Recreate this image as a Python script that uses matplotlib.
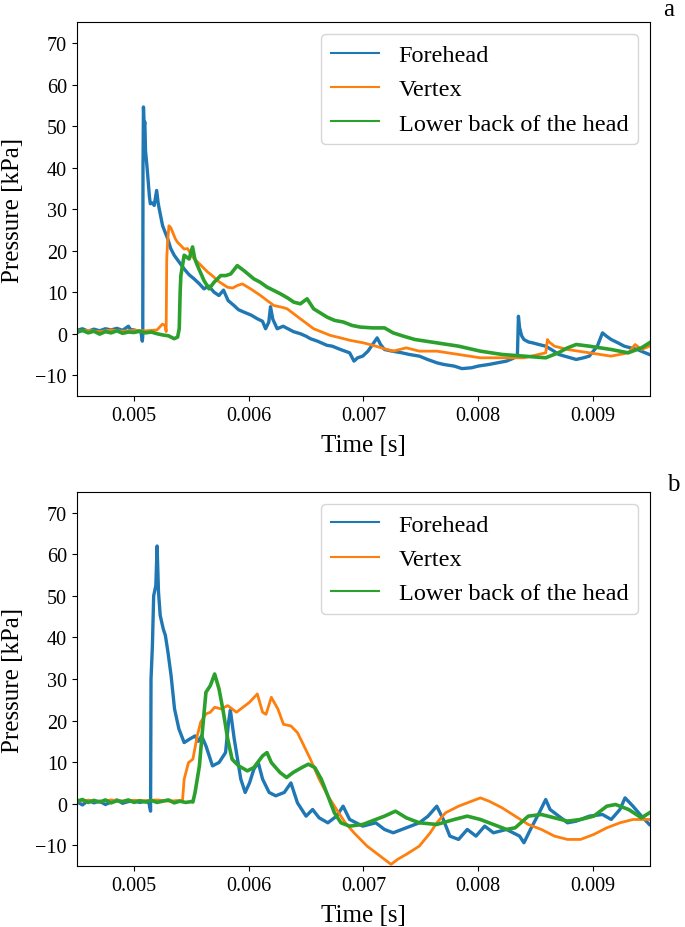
import numpy as np
import matplotlib
matplotlib.use("Agg")
from matplotlib import pyplot as plt

plt.rcParams['font.family'] = ['Liberation Serif', 'DejaVu Serif']

# ---- panel a (times in ms, pressure in kPa) ----
ta_fore = [4.50, 4.55, 4.60, 4.65, 4.70, 4.75, 4.80, 4.85, 4.90, 4.95, 4.97, 5.00, 5.04, 5.06,
           5.072, 5.076, 5.078, 5.082, 5.088, 5.094, 5.100, 5.112, 5.124, 5.134, 5.142, 5.160,
           5.176, 5.197, 5.210, 5.220, 5.249, 5.270, 5.293, 5.320, 5.350, 5.400, 5.437, 5.480,
           5.524, 5.570, 5.610, 5.650, 5.698, 5.740, 5.780, 5.820, 5.871, 5.910, 5.958, 6.020,
           6.075, 6.120, 6.147, 6.175, 6.190, 6.210, 6.248, 6.300, 6.390, 6.450, 6.500, 6.538,
           6.600, 6.683, 6.728, 6.800, 6.880, 6.918, 6.950, 6.994, 7.040, 7.070, 7.120, 7.150,
           7.184, 7.250, 7.336, 7.400, 7.488, 7.560, 7.640, 7.700, 7.792, 7.860, 7.944, 8.000,
           8.096, 8.170, 8.248, 8.300, 8.343, 8.352, 8.362, 8.380, 8.400, 8.440, 8.476, 8.530,
           8.590, 8.650, 8.704, 8.780, 8.856, 8.920, 8.970, 9.040, 9.085, 9.120, 9.161, 9.220,
           9.275, 9.330, 9.389, 9.440, 9.494]
pa_fore = [0.8, 1.2, 0.6, 1.1, 0.7, 1.2, 0.9, 1.3, 0.8, 1.8, 1.0, 0.9, 0.6, 0.5,
           -1.8, -0.5, 40.0, 54.6, 50.0, 51.0, 44.0, 40.5, 36.5, 33.0, 31.3, 31.5,
           30.9, 34.5, 31.5, 30.0, 26.0, 24.5, 22.9, 20.5, 18.9, 17.0, 15.6, 14.2,
           13.2, 12.0, 10.8, 11.5, 10.0, 9.2, 10.5, 8.0, 6.8, 5.8, 5.2, 4.5,
           3.6, 3.0, 1.2, 2.8, 6.5, 3.5, 1.2, 1.8, 0.5, 0.0, -0.6, -1.2,
           -1.8, -2.8, -3.0, -3.8, -4.6, -6.6, -5.8, -5.4, -4.2, -3.0, -1.0, -2.6,
           -3.8, -4.2, -4.6, -5.0, -5.4, -6.2, -7.0, -7.4, -7.8, -8.4, -8.2, -7.8,
           -7.4, -7.0, -6.6, -6.0, -5.4, 4.2, 1.5, -0.5, -1.4, -2.0, -2.2, -2.6,
           -3.0, -4.0, -5.0, -5.6, -6.2, -5.8, -5.4, -3.0, 0.2, -0.6, -1.4, -2.2,
           -3.0, -3.4, -3.8, -4.4, -5.0]

ta_vert = [4.50, 4.60, 4.70, 4.80, 4.90, 5.00, 5.10, 5.20, 5.247, 5.270, 5.280, 5.285, 5.292,
           5.304, 5.321, 5.361, 5.380, 5.437, 5.467, 5.510, 5.553, 5.600, 5.640, 5.690, 5.727,
           5.770, 5.814, 5.860, 5.900, 5.944, 6.017, 6.103, 6.160, 6.219, 6.300, 6.335, 6.450,
           6.566, 6.711, 6.800, 6.885, 7.000, 7.108, 7.180, 7.260, 7.374, 7.488, 7.640, 7.830,
           8.020, 8.210, 8.400, 8.590, 8.605, 8.620, 8.666, 8.780, 8.970, 9.160, 9.310, 9.370,
           9.425, 9.494]
pa_vert = [0.6, 0.8, 0.5, 0.9, 0.6, 0.8, 0.7, 0.9, 2.3, 2.0, 0.5, 18.0, 22.0,
           26.0, 25.5, 22.8, 22.0, 20.4, 20.5, 18.5, 17.3, 16.0, 14.9, 13.8, 12.8,
           12.0, 11.2, 11.0, 11.6, 12.0, 10.8, 9.2, 8.0, 6.8, 6.3, 6.0, 3.6,
           1.2, -0.4, -1.0, -1.6, -2.2, -3.0, -3.6, -4.2, -3.4, -4.2, -4.2, -5.0,
           -5.8, -5.8, -5.8, -4.6, -1.4, -2.0, -3.0, -3.8, -4.6, -5.4, -4.6, -2.6,
           -3.8, -3.0]

ta_back = [4.50, 4.55, 4.60, 4.65, 4.70, 4.75, 4.80, 4.85, 4.90, 4.95, 5.00, 5.05, 5.10,
           5.15, 5.20, 5.25, 5.30, 5.35, 5.38, 5.394, 5.402, 5.408, 5.437, 5.480, 5.510,
           5.530, 5.553, 5.610, 5.654, 5.698, 5.756, 5.800, 5.843, 5.900, 5.958, 6.045, 6.100,
           6.161, 6.220, 6.277, 6.340, 6.393, 6.450, 6.509, 6.566, 6.683, 6.750, 6.827, 6.900,
           6.972, 7.080, 7.184, 7.260, 7.350, 7.450, 7.640, 7.830, 8.020, 8.210, 8.400, 8.590,
           8.700, 8.780, 8.856, 8.970, 9.160, 9.310, 9.425, 9.494]
pa_back = [0.3, 0.8, 0.2, 0.6, -0.1, 0.5, 0.2, 0.7, 0.1, 0.4, 0.3, 0.6, 0.2,
           0.4, 0.0, -0.3, -0.5, -1.2, -0.8, 1.2, 10.0, 14.0, 18.9, 18.0, 20.9,
           18.0, 16.4, 12.8, 10.8, 12.4, 14.0, 14.0, 14.4, 16.4, 15.2, 13.2, 12.4,
           11.2, 10.4, 9.6, 8.6, 7.6, 7.2, 8.4, 6.0, 4.0, 3.2, 2.8, 2.0,
           1.6, 1.4, 1.4, 0.2, -0.6, -1.4, -2.2, -3.0, -4.2, -5.0, -5.4, -5.8,
           -4.6, -3.4, -2.6, -3.0, -3.8, -4.6, -3.4, -2.2]

# ---- panel b ----
tb_fore = [4.50, 4.55, 4.60, 4.65, 4.70, 4.75, 4.80, 4.85, 4.90, 4.95, 5.00, 5.05, 5.10,
           5.130, 5.144, 5.148, 5.160, 5.171, 5.190, 5.201, 5.213, 5.228, 5.255, 5.273, 5.296,
           5.323, 5.353, 5.391, 5.437, 5.482, 5.532, 5.560, 5.589, 5.627, 5.684, 5.741, 5.798,
           5.824, 5.840, 5.850, 5.874, 5.931, 5.969, 6.007, 6.045, 6.083, 6.121, 6.178, 6.235,
           6.310, 6.368, 6.425, 6.500, 6.557, 6.614, 6.690, 6.766, 6.823, 6.880, 6.994, 7.108,
           7.184, 7.260, 7.374, 7.488, 7.564, 7.640, 7.697, 7.754, 7.830, 7.906, 7.982, 8.058,
           8.134, 8.248, 8.362, 8.400, 8.457, 8.533, 8.590, 8.628, 8.704, 8.780, 8.856, 8.970,
           9.085, 9.161, 9.237, 9.282, 9.351, 9.425, 9.494]
pb_fore = [0.5, -0.3, 0.8, 0.2, 0.6, -0.2, 0.4, 0.9, 0.1, 0.5, 0.7, 0.3, 0.6,
           0.2, -1.8, 30.0, 38.0, 50.0, 52.5, 62.0, 51.0, 45.3, 42.0, 40.5, 36.4,
           30.8, 22.8, 18.0, 14.7, 15.5, 16.3, 15.0, 16.3, 13.9, 9.1, 9.9, 12.3,
           19.6, 22.5, 20.4, 15.5, 5.9, 2.7, 5.0, 8.3, 9.9, 5.9, 2.7, 1.9,
           2.7, 5.0, 0.2, -3.0, -1.4, -3.4, -4.6, -3.0, -0.6, -3.8, -5.4, -4.6,
           -6.2, -7.0, -5.8, -4.6, -3.0, -0.6, -3.8, -7.8, -8.6, -6.2, -7.8, -5.4,
           -7.0, -6.2, -7.8, -9.4, -6.2, -2.2, 1.0, -1.4, -3.0, -4.6, -4.2, -3.0,
           -2.6, -3.8, -1.4, 1.4, -0.6, -3.0, -5.0]

tb_vert = [4.50, 4.60, 4.70, 4.80, 4.90, 5.00, 5.10, 5.20, 5.30, 5.40, 5.422, 5.437, 5.475,
           5.513, 5.551, 5.581, 5.627, 5.665, 5.703, 5.760, 5.817, 5.893, 5.950, 6.007, 6.075,
           6.121, 6.151, 6.197, 6.254, 6.303, 6.368, 6.425, 6.482, 6.538, 6.614, 6.690, 6.766,
           6.842, 6.918, 7.032, 7.146, 7.241, 7.298, 7.374, 7.488, 7.583, 7.640, 7.716, 7.830,
           7.944, 8.020, 8.096, 8.210, 8.324, 8.438, 8.552, 8.666, 8.780, 8.894, 9.009, 9.123,
           9.237, 9.351, 9.494]
pb_vert = [0.6, 0.8, 0.5, 0.9, 0.6, 0.8, 0.7, 0.9, 0.6, 0.8, 0.6, 5.9, 9.9,
           10.7, 16.3, 19.6, 21.6, 22.0, 23.2, 22.8, 23.6, 22.0, 23.2, 24.4, 26.4,
           22.0, 21.5, 25.6, 22.8, 19.1, 18.7, 17.1, 13.9, 10.7, 5.9, 1.9, -1.4,
           -4.6, -7.0, -10.2, -12.6, -14.6, -13.4, -12.2, -10.2, -7.0, -4.6, -2.2, -0.6,
           0.6, 1.4, 0.6, -1.0, -3.0, -5.0, -6.2, -7.8, -8.6, -8.6, -7.4, -5.8,
           -4.6, -3.8, -3.8]

tb_back = [4.50, 4.55, 4.60, 4.65, 4.70, 4.75, 4.80, 4.85, 4.90, 4.95, 5.00, 5.05, 5.10,
           5.15, 5.20, 5.25, 5.30, 5.35, 5.40, 5.45, 5.50, 5.513, 5.532, 5.570, 5.600,
           5.627, 5.665, 5.703, 5.741, 5.779, 5.817, 5.855, 5.912, 5.988, 6.045, 6.121, 6.159,
           6.197, 6.273, 6.330, 6.387, 6.463, 6.520, 6.576, 6.633, 6.690, 6.747, 6.804, 6.880,
           6.994, 7.108, 7.184, 7.280, 7.374, 7.488, 7.640, 7.792, 7.906, 8.020, 8.134, 8.248,
           8.324, 8.438, 8.552, 8.666, 8.780, 8.894, 9.009, 9.123, 9.199, 9.313, 9.425, 9.494]
pb_back = [0.6, 1.0, 0.3, 0.8, 0.4, 0.9, 0.2, 0.7, 0.5, 0.9, 0.3, 0.7, 0.4,
           0.8, 0.3, 0.6, 0.9, 0.2, 0.6, 0.3, 0.5, 0.4, 2.7, 9.1, 18.7,
           26.8, 28.4, 31.2, 27.6, 22.0, 15.5, 10.7, 9.1, 7.9, 8.7, 11.5, 12.3,
           9.9, 7.5, 6.3, 7.5, 8.7, 9.5, 8.7, 5.9, 1.9, -2.2, -4.6, -5.4,
           -5.0, -3.8, -3.0, -1.8, -3.4, -4.6, -5.0, -3.8, -3.0, -3.8, -5.0, -6.2,
           -5.8, -3.0, -2.6, -3.4, -4.2, -3.8, -3.0, -0.6, -0.2, -1.4, -3.4, -2.2]

labels = ['Forehead', 'Vertex', 'Lower back of the head']
colors = ['#1f77b4', '#ff7f0e', '#2ca02c']
xticks = [0.005, 0.006, 0.007, 0.008, 0.009]
xtick_labels = ['0.005', '0.006', '0.007', '0.008', '0.009']
yticks = [-10, 0, 10, 20, 30, 40, 50, 60, 70]

panels = [
    ([ta_fore, ta_vert, ta_back], [pa_fore, pa_vert, pa_back], 'a'),
    ([tb_fore, tb_vert, tb_back], [pb_fore, pb_vert, pb_back], 'b'),
]

fig = plt.figure(figsize=(6.85, 9.28), dpi=100)
rects = [[0.112, 0.5722, 0.837, 0.4027], [0.112, 0.0657, 0.837, 0.4031]]
# letter baselines, in figure fractions
letter_pos = [(669 / 685, 1 - 16 / 928), (673 / 685, 1 - 491 / 928)]
widths = [2.4, 2.0, 2.6]

for (ts, ps, letter), rect, lp in zip(panels, rects, letter_pos):
    ax = fig.add_axes(rect)
    for t, p, lab, c, w in zip(ts, ps, labels, colors, widths):
        ax.plot(np.array(t) * 1e-3, p, color=c, lw=w, label=lab)
    ax.set_xlim(0.0045, 0.0095)
    ax.set_ylim(-15, 75)
    ax.set_xticks(xticks)
    ax.set_xticklabels(xtick_labels)
    ax.set_yticks(yticks)
    ax.tick_params(labelsize=14.5)
    ax.set_xlabel('Time [s]', fontsize=18, labelpad=7)
    ax.set_ylabel('Pressure [kPa]', fontsize=18, labelpad=8)
    leg = ax.legend(loc='upper right', fontsize=17.5)
    for line in leg.get_lines():
        line.set_linewidth(1.5)
    fig.text(lp[0], lp[1], letter, fontsize=18, ha='center', va='baseline')

fig.savefig('out.png', dpi=100)
